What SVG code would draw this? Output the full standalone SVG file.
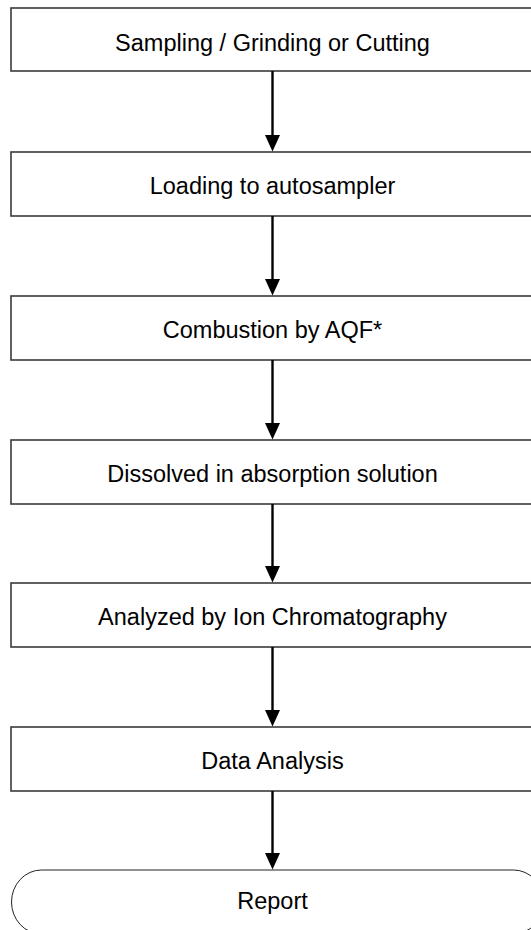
<svg xmlns="http://www.w3.org/2000/svg" width="531" height="930" viewBox="0 0 531 930">
<style>
.box{fill:#fff;stroke:#3a3a3a;stroke-width:1.6}
.term{fill:#fff;stroke:#222;stroke-width:1}
.lbl{font-family:"Liberation Sans",Arial,sans-serif;font-size:23.5px;fill:#000;text-anchor:middle}
.conn{stroke:#000;stroke-width:2.4;fill:none}
.head{fill:#000}
</style>
<rect width="531" height="930" fill="#fff"/>
<g id="n1"><rect class="box" x="11" y="8" width="523" height="63"/><text class="lbl" x="272.5" y="50.5">Sampling / Grinding or Cutting</text></g>
<g id="n2"><rect class="box" x="11" y="152" width="523" height="64"/><text class="lbl" x="272.5" y="194">Loading to autosampler</text></g>
<g id="n3"><rect class="box" x="11" y="296" width="523" height="64"/><text class="lbl" x="272.5" y="338">Combustion by AQF*</text></g>
<g id="n4"><rect class="box" x="11" y="440" width="523" height="64"/><text class="lbl" x="272.5" y="482">Dissolved in absorption solution</text></g>
<g id="n5"><rect class="box" x="11" y="583" width="523" height="64"/><text class="lbl" x="272.5" y="625">Analyzed by Ion Chromatography</text></g>
<g id="n6"><rect class="box" x="11" y="727" width="523" height="64"/><text class="lbl" x="272.5" y="769">Data Analysis</text></g>
<g id="n7"><rect class="term" x="11.5" y="870" width="532" height="64" rx="30" ry="32"/><text class="lbl" x="272.5" y="909">Report</text></g>
<g id="connectors">
<line class="conn" x1="272.5" y1="71" x2="272.5" y2="137"/><polygon class="head" points="265,135 280,135 272.5,151.5"/>
<line class="conn" x1="272.5" y1="216" x2="272.5" y2="281"/><polygon class="head" points="265,279 280,279 272.5,295.5"/>
<line class="conn" x1="272.5" y1="360" x2="272.5" y2="425"/><polygon class="head" points="265,423 280,423 272.5,439.5"/>
<line class="conn" x1="272.5" y1="504" x2="272.5" y2="568"/><polygon class="head" points="265,566 280,566 272.5,582.5"/>
<line class="conn" x1="272.5" y1="647" x2="272.5" y2="712"/><polygon class="head" points="265,710 280,710 272.5,726.5"/>
<line class="conn" x1="272.5" y1="791" x2="272.5" y2="855"/><polygon class="head" points="265,853 280,853 272.5,869.5"/>
</g>
</svg>
